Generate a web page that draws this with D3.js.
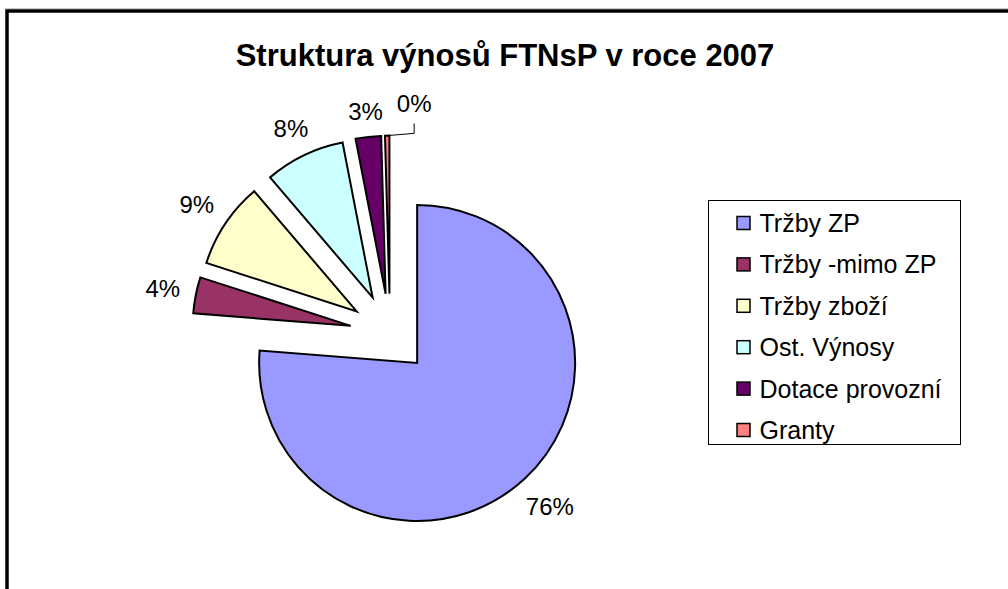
<!DOCTYPE html>
<head>
    <meta charset="utf-8">
    <script src="https://d3js.org/d3.v7.min.js"></script>
    <style>
        body { margin: 0; background: #fff; }
        text { font-family: "Liberation Sans", Arial, sans-serif; }
    </style>
</head>
<body>
    <svg width="1008" height="589"></svg>
    <script>
        // values (share of revenue, %)
        var categories = ["Tržby ZP", "Tržby -mimo ZP", "Tržby zboží", "Ost. Výnosy", "Dotace provozní", "Granty"];
        var values = [76.3, 3.7, 8.8, 8.2, 2.6, 0.45];
        var colors = ["#9999FF", "#993366", "#FFFFCC", "#CCFFFF", "#660066", "#FF8080"];
        var title = "Struktura výnosů FTNsP v roce 2007";

        var width = 1008, height = 589;
        var svg = d3.select("svg");

        // chart frame (runs off the right and bottom edge)
        svg.append("line")
            .attr("x1", 5).attr("x2", width).attr("y1", 8.5).attr("y2", 8.5)
            .attr("stroke", "#c8c8c8").attr("stroke-width", 1);
        svg.append("rect")
            .attr("x", 7).attr("y", 11)
            .attr("width", width + 20).attr("height", height + 20)
            .attr("fill", "none").attr("stroke", "#000").attr("stroke-width", 3.5);

        svg.append("text")
            .attr("x", 505).attr("y", 66)
            .attr("text-anchor", "middle")
            .attr("font-size", 31).attr("font-weight", "bold")
            .text(title);

        var cx = 390, cy = 333.6, r = 158, explode = 40;
        var fs = 24, legendFs = 25;

        var pie = d3.pie().sort(null).value(d => d);
        var arcs = pie(values);
        var arc = d3.arc().innerRadius(0).outerRadius(r);
        var mid = d => (d.startAngle + d.endAngle) / 2;

        var g = svg.append("g").attr("transform", "translate(" + cx + "," + cy + ")");

        g.selectAll("path")
            .data(arcs)
            .enter().append("path")
            .attr("d", arc)
            .attr("transform", d => "translate(" + (Math.sin(mid(d)) * explode) + "," + (-Math.cos(mid(d)) * explode) + ")")
            .attr("fill", (d, i) => colors[i])
            .attr("stroke", "#000")
            .attr("stroke-width", 2)
            .attr("stroke-linejoin", "miter");

        // data labels, outside end
        var fmt = d3.format(".0%");
        var labels = g.selectAll("text.lbl")
            .data(arcs)
            .enter().append("text")
            .attr("class", "lbl")
            .attr("font-size", fs)
            .attr("text-anchor", "middle")
            .text(d => fmt(d.value / 100));

        var hh = fs * 0.36, gap = 15;
        var boxes = [];
        labels.each(function (d, i) {
            var w = this.getComputedTextLength();
            var a = mid(d), ux = Math.sin(a), uy = -Math.cos(a);
            var dist = explode + r + gap + Math.abs(ux) * w / 2 + Math.abs(uy) * hh;
            var x = ux * dist, y = uy * dist;
            var prev = boxes[i - 1];
            var moved = false;
            if (prev && x - w / 2 < prev.x1 && Math.abs(y - prev.y) < 2 * hh + 6) {
                x = prev.x1 + 14 + w / 2;
                y -= 8;
                moved = true;
            }
            boxes.push({ x: x, y: y, x1: x + w / 2 });
            d3.select(this).attr("x", x).attr("y", y + hh);
            if (moved) {
                var ox = ux * (explode + r), oy = uy * (explode + r);
                g.append("polyline")
                    .attr("points", [[x, y + hh + 11], [x, y + hh + 21], [ox, oy]].join(" "))
                    .attr("fill", "none").attr("stroke", "#000").attr("stroke-width", 1);
            }
        });

        // legend
        var lg = svg.append("g").attr("transform", "translate(708.5,200.5)");
        lg.append("rect")
            .attr("width", 252).attr("height", 244)
            .attr("fill", "#fff").attr("stroke", "#000").attr("stroke-width", 1);
        var item = lg.selectAll("g.item")
            .data(categories)
            .enter().append("g")
            .attr("class", "item")
            .attr("transform", (d, i) => "translate(0," + (22.5 + i * 41.4) + ")");
        item.append("rect")
            .attr("x", 28.5).attr("y", -6.5)
            .attr("width", 13).attr("height", 13)
            .attr("fill", (d, i) => colors[i])
            .attr("stroke", "#000").attr("stroke-width", 1.5);
        item.append("text")
            .attr("x", 51).attr("y", 9)
            .attr("font-size", legendFs)
            .text(d => d);
    </script>
</body>
